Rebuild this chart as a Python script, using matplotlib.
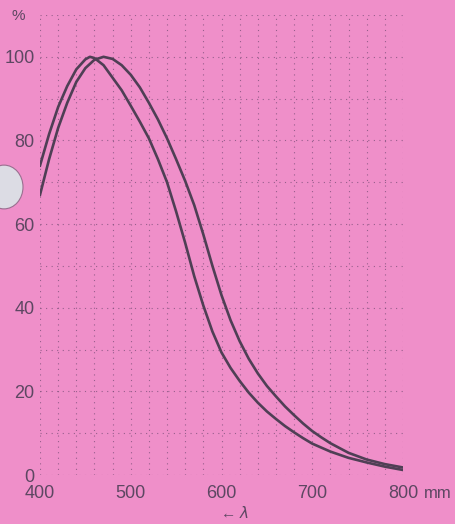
import matplotlib.pyplot as plt
from matplotlib.patches import Circle

# wavelength (nm) and relative response (%)
wavelength = [400, 410, 420, 430, 440, 450, 455, 460, 470, 480, 490, 500,
              510, 520, 530, 540, 550, 560, 570, 580, 590, 600, 610, 620,
              630, 640, 650, 660, 670, 680, 690, 700, 720, 740, 760, 780, 800]
curve_a = [74, 81.5, 88, 93, 97, 99.4, 100, 99.7, 98, 95, 92, 88.3,
           84.5, 80.5, 75.5, 70, 63, 55.5, 47.5, 40.5, 34.3, 29.3, 25.6, 22.5,
           19.7, 17.3, 15.2, 13.4, 11.7, 10.2, 8.8, 7.5, 5.6, 4.1, 3.0, 2.0, 1.2]

wavelength_b = [400, 410, 420, 430, 440, 450, 460, 470, 480, 490, 500, 510,
                520, 530, 540, 550, 560, 570, 580, 590, 600, 610, 620, 630,
                640, 650, 660, 670, 680, 690, 700, 710, 720, 740, 760, 780, 800]
curve_b = [67, 75.5, 83, 89, 94, 97.3, 99.3, 100, 99.5, 98, 95.7, 92.7,
           89, 85, 80.5, 75.5, 70.3, 64.5, 57.5, 50, 43, 37, 32, 27.8,
           24.3, 21.3, 18.8, 16.4, 14.3, 12.3, 10.5, 9.0, 7.6, 5.3, 3.7, 2.6, 1.8]

x_ticks = [400, 500, 600, 700, 800]
x_tick_labels = ["400", "500", "600", "700", "800"]
y_ticks = [0, 20, 40, 60, 80, 100]

pink = "#ef8fc9"
ink = "#4f3f55"
grid_ink = "#7a4f78"
label_ink = "#5d4762"

plt.rcParams["font.family"] = ["Liberation Sans", "DejaVu Sans"]

fig = plt.figure(figsize=(4.55, 5.24), dpi=100, facecolor=pink)
ax = fig.add_axes([40 / 455, 49 / 524, 363 / 455, 460 / 524])
ax.set_facecolor(pink)

# grid: every 20 nm and every 10 %
for gx in range(400, 801, 20):
    ax.axvline(gx, color=grid_ink, lw=0.8, ls=(0, (1, 4)), alpha=0.75, zorder=1)
for gy in range(0, 111, 10):
    ax.axhline(gy, color=grid_ink, lw=0.8, ls=(0, (1, 4)), alpha=0.75, zorder=1)

ax.plot(wavelength, curve_a, color=ink, lw=1.9, zorder=3)
ax.plot(wavelength_b, curve_b, color=ink, lw=1.9, zorder=3)

ax.set_xlim(400, 800)
ax.set_ylim(0, 110)
for s in ax.spines.values():
    s.set_visible(False)

ax.set_xticks(x_ticks)
ax.set_xticklabels(x_tick_labels)
ax.set_yticks(y_ticks)
ax.tick_params(length=0, colors=label_ink, labelsize=13)
ax.tick_params(axis="y", pad=4)
ax.tick_params(axis="x", pad=7)

fig.text(424 / 455, 1 - 493 / 524, "mm", color=label_ink, fontsize=12,
         va="center", ha="left")
fig.text(12 / 455, 1 - 16 / 524, "%", color=label_ink, fontsize=11,
         va="center", ha="left")
fig.text(234 / 455, 1 - 513 / 524, "\u2190 $\\lambda$", color=label_ink,
         fontsize=11, va="center", ha="center")

# punched hole on the left edge of the card
fig.patches.append(Circle((4 / 455, 1 - 187 / 524), 19 / 455,
                          transform=fig.transFigure, facecolor="#dcdce4",
                          edgecolor="#9a6f90", lw=0.8))

fig.savefig("out.png", dpi=100, facecolor=pink)
